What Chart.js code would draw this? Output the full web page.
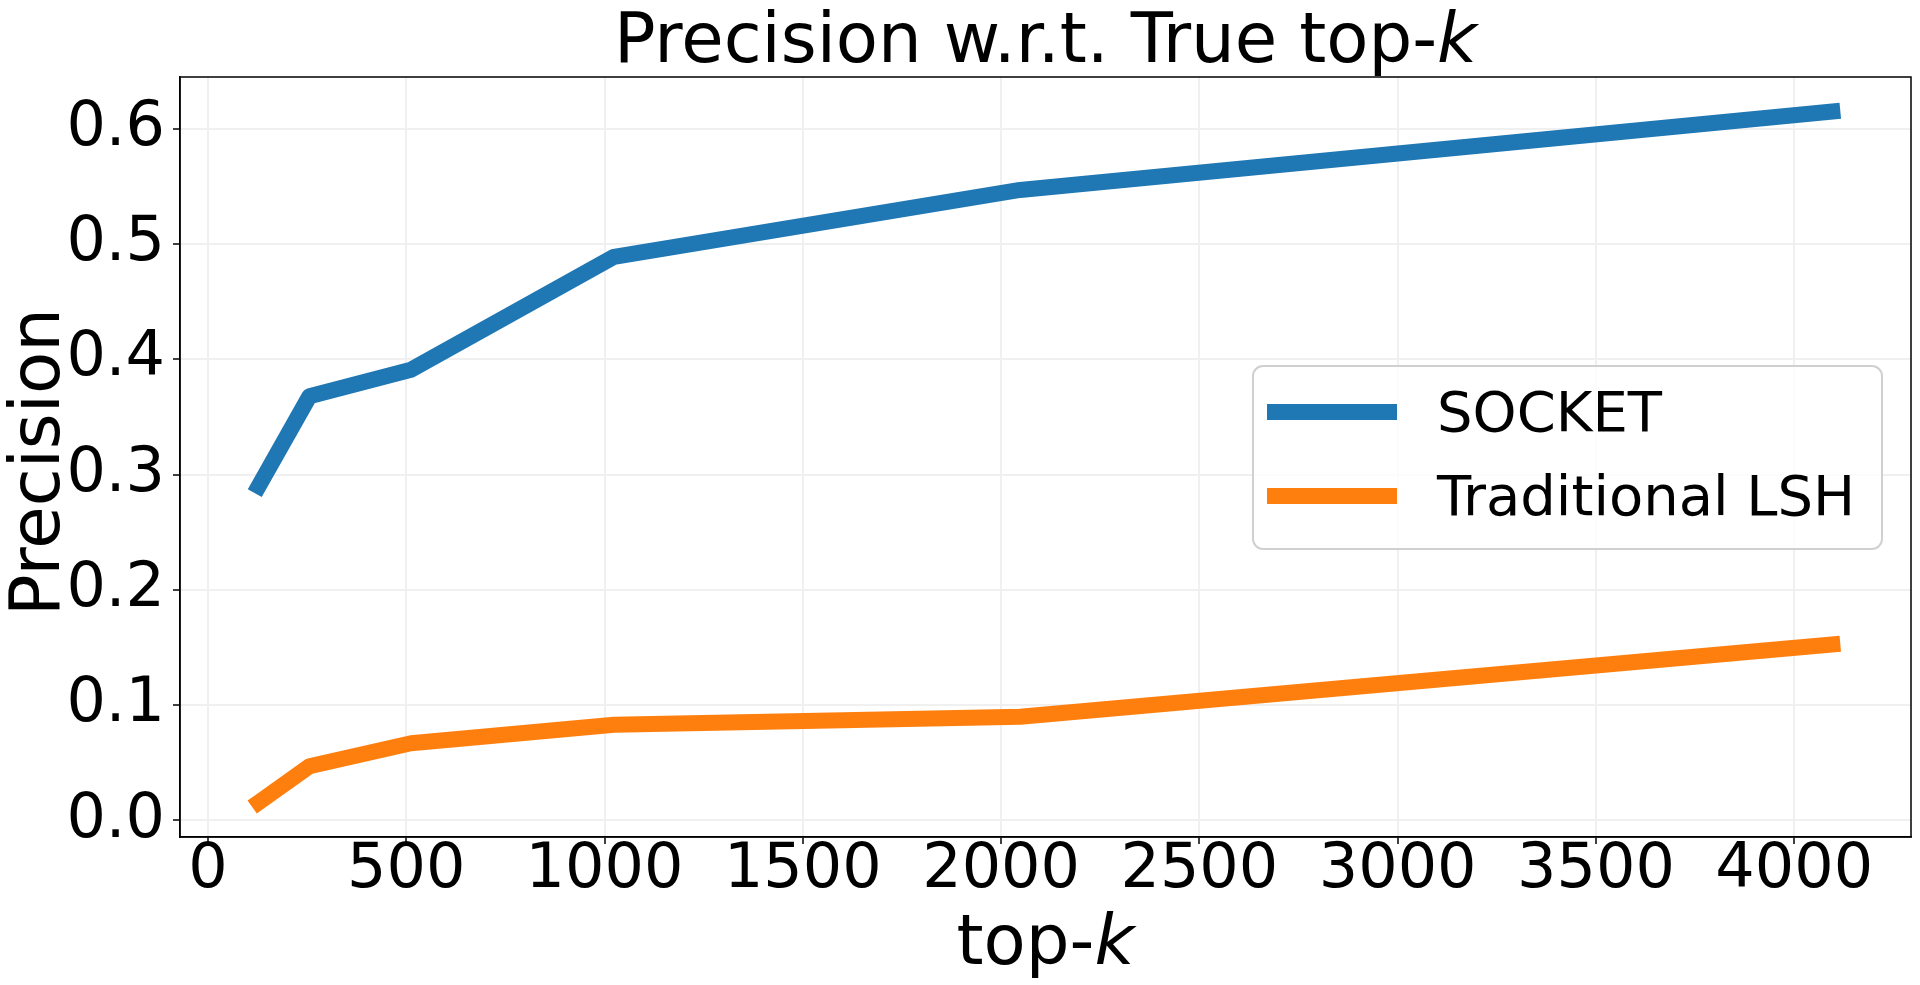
<!DOCTYPE html>
<html>
<head>
<meta charset="utf-8">
<title>Precision w.r.t. True top-k</title>
<script src="https://cdn.jsdelivr.net/npm/chart.js@4.4.1/dist/chart.umd.min.js"></script>
<style>
    html, body { margin: 0; padding: 0; background: #fff; }
    #wrap { width: 1920px; height: 985px; }
</style>
</head>
<body>
<div id="wrap"><canvas id="myChart" width="1920" height="985"></canvas></div>
<script>
const topK = [128, 256, 512, 1024, 2048, 4096];
const socketPrecision = [0.290, 0.368, 0.391, 0.489, 0.547, 0.615];
const lshPrecision = [0.0156, 0.047, 0.067, 0.083, 0.090, 0.1526];
const xTicks = [0, 500, 1000, 1500, 2000, 2500, 3000, 3500, 4000];
const yTicks = [0.0, 0.1, 0.2, 0.3, 0.4, 0.5, 0.6];
const seriesNames = ['SOCKET', 'Traditional LSH'];
const seriesColors = ['#1f77b4', '#ff7f0e'];

const FONT = "'DejaVu Sans'";
let chart;

// same 5% padding matplotlib puts around the data
function withMargin(values) {
    const lo = Math.min(...values);
    const hi = Math.max(...values);
    const pad = (hi - lo) * 0.05;
    return [lo - pad, hi + pad];
}

const xRange = withMargin(topK);
const yRange = withMargin(socketPrecision.concat(lshPrecision));

function toPoints(ys) {
    return topK.map(function(k, i) {
        return {x: k, y: ys[i]};
    });
}

// text with an italic piece in it (the k)
function drawParts(ctx, parts, size, x, y) {
    let total = 0;
    parts.forEach(function(p) {
        ctx.font = (p.italic ? 'italic ' : '') + size + 'px ' + FONT;
        p.w = ctx.measureText(p.text).width;
        total += p.w;
    });
    let cx = x - total / 2;
    parts.forEach(function(p) {
        ctx.font = (p.italic ? 'italic ' : '') + size + 'px ' + FONT;
        ctx.fillText(p.text, cx, y);
        cx += p.w;
    });
}

const decorations = {
    id: 'decorations',
    afterDraw: function(chart) {
        const ctx = chart.ctx;
        const area = chart.chartArea;
        ctx.save();

        ctx.strokeStyle = '#000';
        ctx.lineWidth = 1.5;
        ctx.strokeRect(area.left, area.top, area.right - area.left, area.bottom - area.top);

        ctx.fillStyle = '#000';
        ctx.textAlign = 'left';
        ctx.textBaseline = 'alphabetic';
        const midX = (area.left + area.right) / 2;
        drawParts(ctx, [{text: 'Precision w.r.t. True top-'}, {text: 'k', italic: true}], 69, midX, 62);
        drawParts(ctx, [{text: 'top-'}, {text: 'k', italic: true}], 69, midX, 964);

        ctx.save();
        ctx.translate(59, 462);
        ctx.rotate(-Math.PI / 2);
        drawParts(ctx, [{text: 'Precision'}], 69, 0, 0);
        ctx.restore();

        // legend box
        const boxRight = area.right - 29;
        const boxLeft = boxRight - 629;
        const boxTop = 366;
        ctx.beginPath();
        ctx.roundRect(boxLeft, boxTop, 629, 183, 10);
        ctx.fillStyle = 'rgba(255,255,255,0.8)';
        ctx.fill();
        ctx.strokeStyle = '#d0d0d0';
        ctx.lineWidth = 2;
        ctx.stroke();

        ctx.font = '56px ' + FONT;
        chart.data.datasets.forEach(function(ds, i) {
            const cy = boxTop + 46 + i * 84;
            ctx.fillStyle = ds.borderColor;
            ctx.fillRect(boxLeft + 14, cy - 8, 130, 16);
            ctx.fillStyle = '#000';
            ctx.fillText(ds.label, boxLeft + 184, cy + 19);
        });

        ctx.restore();
    }
};

function makeDataset(i, values) {
    return {
        label: seriesNames[i],
        data: toPoints(values),
        borderColor: seriesColors[i],
        backgroundColor: seriesColors[i],
        borderWidth: 16,
        borderCapStyle: 'square',
        borderJoinStyle: 'round',
        pointRadius: 0,
        tension: 0
    };
}

const ctx = document.getElementById('myChart').getContext('2d');

chart = new Chart(ctx, {
    type: 'line',
    data: {
        datasets: [
            makeDataset(0, socketPrecision),
            makeDataset(1, lshPrecision)
        ]
    },
    options: {
        responsive: false,
        animation: false,
        devicePixelRatio: 1,
        layout: {
            padding: {top: 77, right: 9, bottom: 0, left: 0}
        },
        plugins: {
            legend: {display: false},
            tooltip: {enabled: false}
        },
        scales: {
            x: {
                type: 'linear',
                min: xRange[0],
                max: xRange[1],
                afterBuildTicks: function(scale) {
                    scale.ticks = xTicks.map(function(v) { return {value: v}; });
                },
                afterFit: function(scale) {
                    scale.height = 148;
                },
                ticks: {
                    color: '#000',
                    font: {family: 'DejaVu Sans', size: 62, lineHeight: 1},
                    padding: -4,
                    maxRotation: 0,
                    autoSkip: false,
                    callback: function(v) { return String(v); }
                },
                grid: {
                    color: '#f0f0f0',
                    lineWidth: 2,
                    tickColor: '#000',
                    tickWidth: 1.5,
                    tickLength: 7
                },
                border: {display: true, color: '#000', width: 1.5}
            },
            y: {
                type: 'linear',
                min: yRange[0],
                max: yRange[1],
                afterBuildTicks: function(scale) {
                    scale.ticks = yTicks.map(function(v) { return {value: v}; });
                },
                afterFit: function(scale) {
                    scale.width = 180;
                },
                ticks: {
                    color: '#000',
                    font: {family: 'DejaVu Sans', size: 62, lineHeight: 1},
                    padding: 8,
                    callback: function(v) { return v.toFixed(1); }
                },
                grid: {
                    color: '#f0f0f0',
                    lineWidth: 2,
                    tickColor: '#000',
                    tickWidth: 1.5,
                    tickLength: 7
                },
                border: {display: true, color: '#000', width: 1.5}
            }
        }
    },
    plugins: [decorations]
});
</script>
</body>
</html>
